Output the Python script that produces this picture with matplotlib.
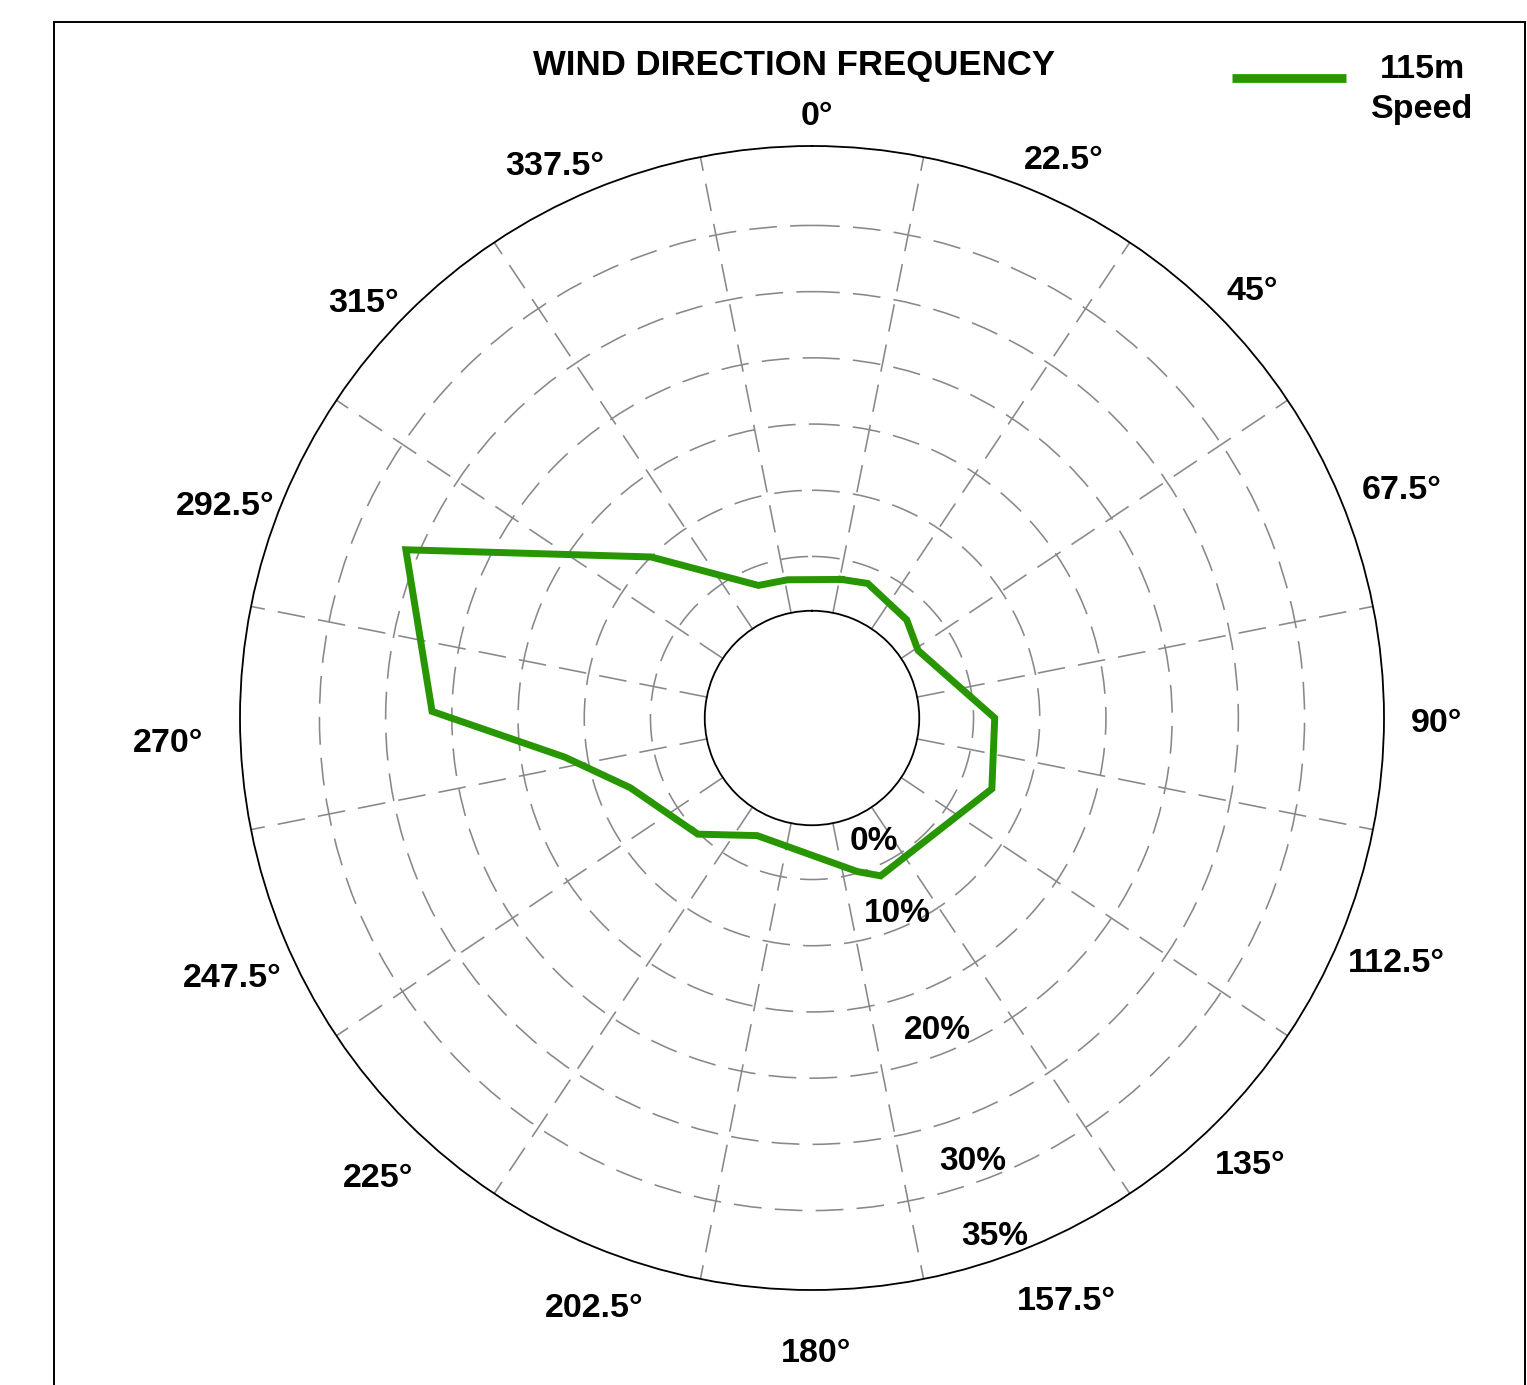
import numpy as np
import matplotlib
matplotlib.use("Agg")
import matplotlib.pyplot as plt
from matplotlib.lines import Line2D
from matplotlib.patches import Rectangle


plt.rcParams["font.family"] = ["Liberation Sans", "DejaVu Sans"]
plt.rcParams["lines.scale_dashes"] = False


# wind direction (deg, clockwise from north) and frequency (%)
direction_deg = [12, 22.5, 44, 57.5, 90, 111.5, 156.5, 163.5, 205, 224.5,
                 249, 261, 271, 292.5, 315, 338, 350]
frequency_pct = [3.5, 3.8, 3.1, 2.3, 6.6, 7.4, 5.8, 4.9, 2.6, 5.1,
                 7.5, 11.7, 21.5, 26.0, 10.0, 3.6, 3.4]

series_name = "115m\nSpeed"
title = "WIND DIRECTION FREQUENCY"

angle_labels = [0, 22.5, 45, 67.5, 90, 112.5, 135, 157.5,
                180, 202.5, 225, 247.5, 270, 292.5, 315, 337.5]
radial_labels = ["0%", "10%", "20%", "30%", "35%"]
radial_gridlines = [5, 10, 15, 20, 25, 30]

# layout (pixels)
W, H, DPI = 1527, 1385, 100
CX, CY, RAD = 812, 718, 572
R_MIN, R_MAX, R_ORIGIN = 0.9, 36, -7.2
# centre of each angle label, offset from the plot centre (px, y down)
angle_label_offset = [(5, -605), (252, -561), (440, -430), (590, -231),
                      (625, 2), (584, 242), (438, 444), (254, 580),
                      (4, 632), (-218, 587), (-434, 457), (-580, 257),
                      (-644, 22), (-587, -215), (-448, -418), (-257, -555)]
# where the radial labels sit: (angle deg, radius in data units)
radial_label_at = [(153, 3.0), (156, 8.7), (158, 18.0), (160, 28.2), (160.5, 34.1)]

GREEN = "#289600"
GRID = "#888888"


fig = plt.figure(figsize=(W / DPI, H / DPI), dpi=DPI)

# frame around the chart
fig.add_artist(Rectangle((53.5 / W, -0.05), (1525 - 53.5) / W, 1.05 - 22 / H,
                         transform=fig.transFigure, fill=False,
                         edgecolor="black", linewidth=1.4))

ax = fig.add_axes([(CX - RAD) / W, (H - CY - RAD) / H, 2 * RAD / W, 2 * RAD / H],
                  projection="polar")
ax.set_theta_zero_location("N")
ax.set_theta_direction(-1)
ax.set_ylim(R_MIN, R_MAX)
ax.set_rorigin(R_ORIGIN)

ax.set_xticks(np.radians(np.arange(11.25, 360, 22.5)))
ax.set_xticklabels([])
ax.set_yticks(radial_gridlines)
ax.set_yticklabels([])
ax.tick_params(length=0)
ax.grid(True, color=GRID, linewidth=1.15, linestyle=(0, (20, 9.5)))

for name in ["polar", "inner"]:
    ax.spines[name].set_color("black")
    ax.spines[name].set_linewidth(1.3)

theta = np.radians(direction_deg + direction_deg[:1])
r = frequency_pct + frequency_pct[:1]
line, = ax.plot(theta, r, color=GREEN, linewidth=5,
                solid_joinstyle="miter", zorder=5)


def put_text(x, y, s, size):
    # x, y: visual centre in pixels, y measured from the top
    cap = 0.716 * size * DPI / 72
    fig.text(x / W, 1 - (y + cap / 2) / H, s, ha="center", va="baseline",
             fontsize=size, fontweight="bold", color="black")


# angular labels, placed around the centre of the polar axes
cx, cy = ax.transAxes.transform((0.5, 0.5))
for a, (dx, dy) in zip(angle_labels, angle_label_offset):
    put_text(cx + dx, H - cy + dy, f"{a:g}°", 24.5)

# radial labels
for lab, (a, rv) in zip(radial_labels, radial_label_at):
    px, py = ax.transData.transform((np.radians(a), rv))
    put_text(px, H - py, lab, 24)

# title
put_text(794, 62.5, title, 25)

# legend
fig.add_artist(Line2D([1232 / W, 1346 / W], [1 - 78 / H, 1 - 78 / H],
                      transform=fig.transFigure, color=line.get_color(),
                      linewidth=6.3, solid_capstyle="butt"))
for i, part in enumerate(series_name.split("\n")):
    put_text(1422, 66 + 40 * i, part, 24.5)

fig.savefig("out.png", dpi=DPI, facecolor="white")
plt.close(fig)
